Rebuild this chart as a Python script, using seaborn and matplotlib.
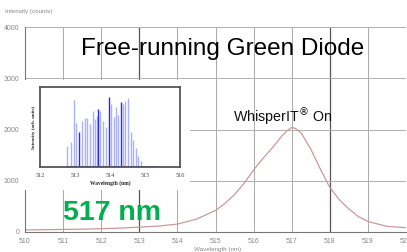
import pandas as pd
import matplotlib.pyplot as plt
import seaborn as sns
from matplotlib.patches import Rectangle

# main spectrum
wavelength = [510.0, 510.5, 511.0, 511.5, 512.0, 512.5, 513.0, 513.5, 514.0, 514.5,
              515.0, 515.25, 515.5, 515.75, 516.0, 516.25, 516.5, 516.75, 516.9, 517.0,
              517.1, 517.25, 517.5, 517.75, 518.0, 518.25, 518.5, 518.75, 519.0, 519.5, 520.0]
counts = [40, 45, 50, 55, 65, 75, 95, 115, 155, 250,
          420, 560, 730, 950, 1210, 1440, 1650, 1880, 1990, 2040,
          2020, 1930, 1620, 1230, 870, 630, 450, 300, 205, 110, 85]

# inset: longitudinal modes of the free-running diode
mode_wl = [512.76, 512.88, 512.97, 513.02, 513.11, 513.19, 513.29, 513.35, 513.43, 513.52,
           513.57, 513.62, 513.67, 513.72, 513.81, 513.88, 513.97, 514.03, 514.1, 514.17,
           514.24, 514.31, 514.37, 514.43, 514.5, 514.59, 514.67, 514.74, 514.81, 514.89]
mode_int = [0.25, 0.30, 0.80, 0.52, 0.41, 0.55, 0.58, 0.58, 0.51, 0.66,
            0.57, 0.60, 0.69, 0.66, 0.55, 0.48, 0.83, 0.75, 0.59, 0.71,
            0.62, 0.77, 0.75, 0.78, 0.82, 0.42, 0.32, 0.23, 0.13, 0.07]
strong_modes = [513.11, 513.67, 513.97, 514.31]

x_ticks = list(range(510, 521))
y_ticks = [0, 1000, 2000, 3000, 4000]
inset_ticks = [512, 513, 514, 515, 516]

df = pd.DataFrame({'wl': wavelength, 'counts': counts})

sns.set_style('white')
plt.rcParams['font.family'] = ['Liberation Sans', 'DejaVu Sans']

fig = plt.figure(figsize=(4.07, 2.52), dpi=100)
ax = fig.add_axes([25 / 407, 20 / 252, 381 / 407, 205 / 252])

sns.lineplot(data=df, x='wl', y='counts', ax=ax, color='#c99a9a', linewidth=0.9)
ax.set_xlim(510, 520)
ax.set_ylim(0, 4000)
ax.set_xticks(x_ticks)
ax.set_yticks(y_ticks)
ax.set_xticks([t + 0.5 for t in x_ticks[:-1]], minor=True)
ax.tick_params(axis='both', labelsize=5, colors='#888888', length=2, pad=2)
ax.tick_params(axis='x', which='minor', length=1.5, colors='#666666')
for t in x_ticks:
    dark = t in (513, 518)
    ax.axvline(t, color='#555555' if dark else '#aaaaaa', lw=0.9 if dark else 0.7, zorder=0)
for t in y_ticks:
    ax.axhline(t, color='#b0b0b0', lw=0.7, zorder=0)
for s in ['top', 'right']:
    ax.spines[s].set_visible(False)
ax.spines['left'].set_color('#777777')
ax.spines['bottom'].set_color('#777777')
ax.spines['left'].set_linewidth(0.8)
ax.spines['bottom'].set_linewidth(0.8)
ax.set_xlabel('')
ax.set_ylabel('')

fig.text(5 / 407, 1 - 12 / 252, 'Intensity (counts)', fontsize=4.5, color='#888888', va='center')
fig.text(218 / 407, 1 - 249 / 252, 'Wavelength (nm)', fontsize=4.5, color='#888888',
         ha='center', va='center')

ax.text(515.2, 3450, 'Free-running Green Diode', fontsize=17.5, ha='center', va='baseline', color='black')
ax.text(515.46, 2144, r'WhisperIT$^{\circledR}$ On', fontsize=10.3, ha='left', va='baseline', color='#111111')
fig.text(112 / 407, 1 - 220 / 252, '517 nm', fontsize=20.5, fontweight='bold', color='#00b050',
         ha='center', va='baseline')

# white patch under the inset
fig.patches.append(Rectangle((24 / 407, 1 - 190 / 252), 166 / 407, 110 / 252,
                             transform=fig.transFigure, facecolor='white', edgecolor='none', zorder=1))

ins = fig.add_axes([40 / 407, 1 - 167 / 252, 140 / 407, 80 / 252], zorder=2)
light = [w for w in mode_wl if w not in strong_modes]
light_h = [h for w, h in zip(mode_wl, mode_int) if w not in strong_modes]
strong_h = [h for w, h in zip(mode_wl, mode_int) if w in strong_modes]
ins.vlines(light, 0, light_h, color='#8f98f2', lw=1.0, alpha=0.75)
ins.vlines(strong_modes, 0, strong_h, color='#2a2ae6', lw=1.0)
ins.plot([512.76, 515.3], [0.005, 0.005], color='#3a3ae8', lw=1.2)
ins.set_xlim(512, 516)
ins.set_ylim(0, 0.95)
ins.set_xticks(inset_ticks)
ins.set_yticks([])
ins.set_xticklabels([str(t) for t in inset_ticks], family='Liberation Serif', fontsize=4.5)
ins.tick_params(axis='x', length=1.5, pad=2.5, colors='#444444')
for s in ins.spines.values():
    s.set_color('#555555')
    s.set_linewidth(1.3)
ins.set_xlabel('Wavelength (nm)', family='Liberation Serif', fontsize=4, fontweight='bold', labelpad=2)
ins.set_ylabel('Intensity (arb. units)', family='Liberation Serif', fontsize=3.5, fontweight='bold', labelpad=3)

plt.savefig('out.png', dpi=100)
